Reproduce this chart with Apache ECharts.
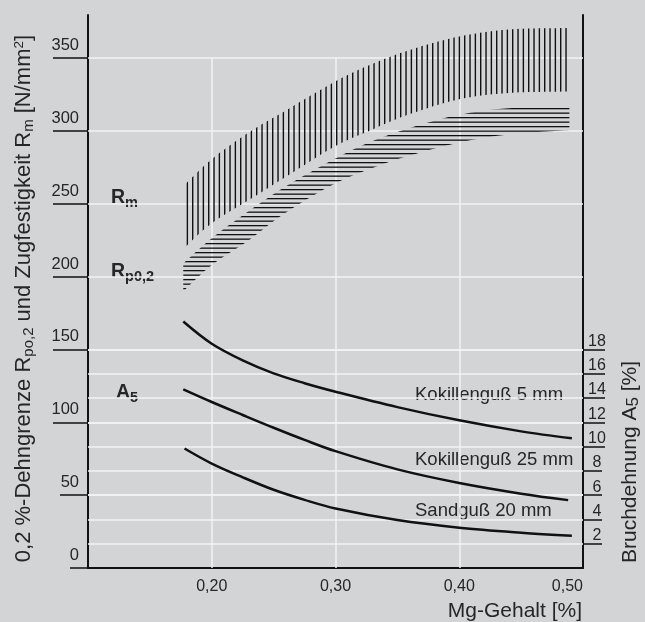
<!DOCTYPE html>
<html>
<head>
<meta charset="utf-8">
<script src="https://cdn.jsdelivr.net/npm/echarts@6/dist/echarts.min.js"></script>
<style>
  html, body { margin: 0; padding: 0; background: #d3d4d6; }
  #chart { width: 645px; height: 622px; }
</style>
</head>
<body>
<div id="chart"></div>
<script>
// Mg-Gehalt [%] der Bänder
const bandX = [0.177, 0.20, 0.23, 0.26, 0.30, 0.33, 0.36, 0.40, 0.44, 0.489];
// Zugfestigkeit Rm [N/mm²], obere / untere Grenze
const rmHigh = [262, 280.5, 299, 314, 334, 346, 355.5, 364.7, 369.5, 370.5];
const rmLow = [219, 236.6, 252.5, 268.5, 289.6, 301, 311.5, 321.7, 326, 327];
// Dehngrenze Rp0,2 [N/mm²], obere / untere Grenze
const rpHigh = [209, 226.3, 245, 262, 281, 293, 302, 311, 315.5, 316.3];
const rpLow = [190, 208, 225, 244, 264, 274.5, 283, 292, 297.5, 300.5];

// Bruchdehnung A5 [%]
const x5 = [0.177, 0.20, 0.225, 0.25, 0.275, 0.30, 0.35, 0.40, 0.45, 0.491];
const a5Kokille5 = [20.3, 18.47, 17.1, 16.03, 15.22, 14.52, 13.25, 12.16, 11.25, 10.68];
const x25 = [0.177, 0.20, 0.225, 0.25, 0.275, 0.30, 0.35, 0.40, 0.45, 0.488];
const a5Kokille25 = [14.71, 13.67, 12.6, 11.55, 10.55, 9.62, 8.12, 7.0, 6.12, 5.59];
const xSand = [0.178, 0.20, 0.225, 0.25, 0.275, 0.30, 0.35, 0.40, 0.45, 0.491];
const a5Sand20 = [9.84, 8.6, 7.47, 6.44, 5.61, 4.9, 3.95, 3.32, 2.91, 2.66];

// Achsen
const leftTicks = [0, 50, 100, 150, 200, 250, 300, 350];
const rightTicks = [2, 4, 6, 8, 10, 12, 14, 16, 18];
const xTicks = [0.2, 0.3, 0.4, 0.5];

const FONT = "'Liberation Sans', Arial, sans-serif";
const INK = "#111";
const TXT = "#262626";
const GRID = "#f3f3f3";

const pairs = (xs, ys) => xs.map((x, i) => [x, ys[i]]);

// Schraffur-Muster
function hatch(w, h, draw) {
  const c = document.createElement("canvas");
  c.width = w;
  c.height = h;
  const ctx = c.getContext("2d");
  ctx.fillStyle = INK;
  draw(ctx);
  return c;
}
const vHatch = hatch(16, 4, (ctx) => {
  [0, 5.33, 10.67].forEach((x) => ctx.fillRect(x, 0, 1.4, 4));
});
const hHatch = hatch(4, 9, (ctx) => {
  [0, 4.5].forEach((y) => ctx.fillRect(0, y, 4, 1.3));
});

// Catmull-Rom -> Bezier, nur für die Umrisslinie der Bänder
function curveTo(pts) {
  let d = "";
  const n = pts.length;
  for (let i = 0; i < n - 1; i++) {
    const p0 = pts[Math.max(i - 1, 0)], p1 = pts[i], p2 = pts[i + 1], p3 = pts[Math.min(i + 2, n - 1)];
    const c1 = [p1[0] + (p2[0] - p0[0]) / 6, p1[1] + (p2[1] - p0[1]) / 6];
    const c2 = [p2[0] - (p3[0] - p1[0]) / 6, p2[1] - (p3[1] - p1[1]) / 6];
    d += " C" + [c1[0], c1[1], c2[0], c2[1], p2[0], p2[1]].map((v) => v.toFixed(2)).join(" ");
  }
  return d;
}

function bandRender(pattern) {
  return function (params, api) {
    if (params.dataIndexInside !== 0) return null;
    const n = params.dataInsideLength;
    const up = [], lo = [];
    for (let i = 0; i < n; i++) {
      up.push(api.coord([api.value(0, i), api.value(2, i)]));
      lo.push(api.coord([api.value(0, i), api.value(1, i)]));
    }
    const rev = lo.slice().reverse();
    const d = "M" + up[0][0].toFixed(2) + " " + up[0][1].toFixed(2) + curveTo(up) +
      " L" + rev[0][0].toFixed(2) + " " + rev[0][1].toFixed(2) + curveTo(rev) + " Z";
    return {
      type: "path",
      shape: { pathData: d },
      style: { fill: { image: pattern, repeat: "repeat" }, stroke: null },
    };
  };
}

const chart = echarts.init(document.getElementById("chart"), null, { renderer: "canvas" });

const labelBase = { fontSize: 16.5, color: TXT, fontFamily: FONT, verticalAlign: "bottom" };
const tickStyle = { color: INK, width: 1.5 };

function leftAxis(values, len, extra) {
  return Object.assign({
    type: "value", position: "left", min: 0, max: 379.5, interval: 50,
    splitLine: { show: false },
    axisLine: { show: false },
    axisTick: { show: true, customValues: values, length: len, lineStyle: tickStyle },
    axisLabel: Object.assign({ customValues: values, margin: 9, padding: [0, 0, 4, 0] }, labelBase),
  }, extra || {});
}
function rightAxis(values, len, extra) {
  return Object.assign({
    type: "value", position: "right", min: 0, max: 45.54, interval: 2,
    splitLine: { show: false },
    axisLine: { show: false },
    axisTick: { show: true, customValues: values, length: len, lineStyle: tickStyle },
    axisLabel: Object.assign({ customValues: values, margin: 14 }, labelBase, { align: "center", fontSize: 16 }),
  }, extra || {});
}

const richName = {
  n: { fontSize: 22, lineHeight: 26, fontFamily: FONT, color: TXT },
  s: { fontSize: 15, lineHeight: 26, fontFamily: FONT, color: TXT, padding: [10, 0, 0, 0] },
  p: { fontSize: 13.5, lineHeight: 26, fontFamily: FONT, color: TXT, padding: [0, 0, 10, 0] },
};
const richBold = {
  b: { fontSize: 19.5, fontWeight: "bold", lineHeight: 26, fontFamily: FONT, fill: TXT },
  s: { fontSize: 14.5, fontWeight: "bold", lineHeight: 26, fontFamily: FONT, fill: TXT, padding: [9, 0, 0, 0] },
};

function boldLabel(x, y, text) {
  return {
    type: "text", x: x, y: y, silent: true,
    style: { text: text, rich: richBold, align: "left", verticalAlign: "middle", textAlign: "left", textVerticalAlign: "middle" },
  };
}
function curveLabel(x, y, text) {
  return {
    type: "text", x: x, y: y, silent: true,
    style: {
      text: text, fontSize: 18.5, fontFamily: FONT, fill: TXT,
      align: "left", verticalAlign: "middle", textAlign: "left", textVerticalAlign: "middle",
    },
  };
}

const gridLine = {
  silent: true, symbol: ["none", "none"], label: { show: false }, z: 1, animation: false,
  lineStyle: { color: GRID, width: 1.5, type: "solid" },
  emphasis: { disabled: true },
};

const curveStyle = {
  type: "line", yAxisIndex: 3, z: 4, silent: true,
  smooth: 0.35, showSymbol: false,
  lineStyle: { color: INK, width: 2.5 },
};

chart.setOption({
  backgroundColor: "#d3d4d6",
  animation: false,
  textStyle: { fontFamily: FONT },
  grid: { left: 88, right: 62, top: 15, bottom: 54, outerBoundsMode: "none" },
  xAxis: {
    type: "value", min: 0.1, max: 0.5, interval: 0.1,
    axisLine: { onZero: false, lineStyle: { color: INK, width: 2 } },
    axisTick: { show: false },
    splitLine: { show: false },
    axisLabel: {
      customValues: xTicks, margin: 11, fontSize: 16, color: TXT, fontFamily: FONT,
      alignMaxLabel: "right",
      formatter: (v) => v.toFixed(2).replace(".", ","),
    },
    name: "Mg-Gehalt [%]",
    nameLocation: "end",
    nameGap: 0,
    nameTextStyle: { align: "right", verticalAlign: "top", padding: [33, 1, 0, 0], fontSize: 21, color: TXT, fontFamily: FONT },
  },
  yAxis: [
    leftAxis(leftTicks.slice(2), 35, {
      axisLine: { show: true, lineStyle: { color: INK, width: 2 } },
      name: "{n|0,2 %-Dehngrenze R}{s|po,2}{n| und Zugfestigkeit R}{s|m}{n| [N/mm}{p|2}{n|]}",
      nameLocation: "middle",
      nameRotate: 90,
      nameGap: 51,
      nameTextStyle: { fontSize: 22, color: TXT, fontFamily: FONT, padding: [0, 14, 0, 0], rich: richName },
    }),
    leftAxis([50], 28),
    leftAxis([0], 18),
    rightAxis(rightTicks.slice(4), 22, {
      axisLine: { show: true, lineStyle: { color: INK, width: 2 } },
    }),
    rightAxis(rightTicks.slice(0, 4), 19),
  ],
  series: [
    {
      // Gitterlinien (linke Achse + senkrechte Linien)
      type: "line", yAxisIndex: 0, data: [], silent: true,
      markLine: Object.assign({}, gridLine, {
        data: leftTicks.slice(1).map((v) => ({ yAxis: v })).concat(
          xTicks.slice(0, 3).map((x) => [{ coord: [x, 0] }, { coord: [x, 350] }])
        ),
      }),
    },
    {
      // Gitterlinien (rechte Achse)
      type: "line", yAxisIndex: 3, data: [], silent: true,
      markLine: Object.assign({}, gridLine, { data: rightTicks.map((v) => ({ yAxis: v })) }),
    },
    {
      name: "Rm", type: "custom", yAxisIndex: 0, z: 3, silent: true,
      renderItem: bandRender(vHatch),
      encode: { x: 0, y: [1, 2] },
      data: bandX.map((x, i) => [x, rmLow[i], rmHigh[i]]),
    },
    {
      name: "Rp0,2", type: "custom", yAxisIndex: 0, z: 3, silent: true,
      renderItem: bandRender(hHatch),
      encode: { x: 0, y: [1, 2] },
      data: bandX.map((x, i) => [x, rpLow[i], rpHigh[i]]),
    },
    Object.assign({ name: "Kokillenguß 5 mm", data: pairs(x5, a5Kokille5) }, curveStyle),
    Object.assign({ name: "Kokillenguß 25 mm", data: pairs(x25, a5Kokille25) }, curveStyle),
    Object.assign({ name: "Sandguß 20 mm", data: pairs(xSand, a5Sand20) }, curveStyle),
  ],
  graphic: [
    boldLabel(111, 198, "{b|R}{s|m}"),
    boldLabel(111, 272, "{b|R}{s|p0,2}"),
    boldLabel(116, 393, "{b|A}{s|5}"),
    curveLabel(415, 395, "Kokillenguß 5 mm"),
    curveLabel(415, 459.5, "Kokillenguß 25 mm"),
    curveLabel(415, 511, "Sandguß 20 mm"),
    {
      type: "text", x: 630, y: 462, rotation: Math.PI / 2, silent: true,
      style: {
        text: "{n|Bruchdehnung A}{s|5}{n| [%]}",
        rich: {
          n: { fontSize: 21, lineHeight: 26, fontFamily: FONT, fill: TXT },
          s: { fontSize: 17, lineHeight: 26, fontFamily: FONT, fill: TXT, padding: [7, 0, 0, 0] },
        },
        align: "center", verticalAlign: "middle", textAlign: "center", textVerticalAlign: "middle",
      },
    },
  ],
});
</script>
</body>
</html>
